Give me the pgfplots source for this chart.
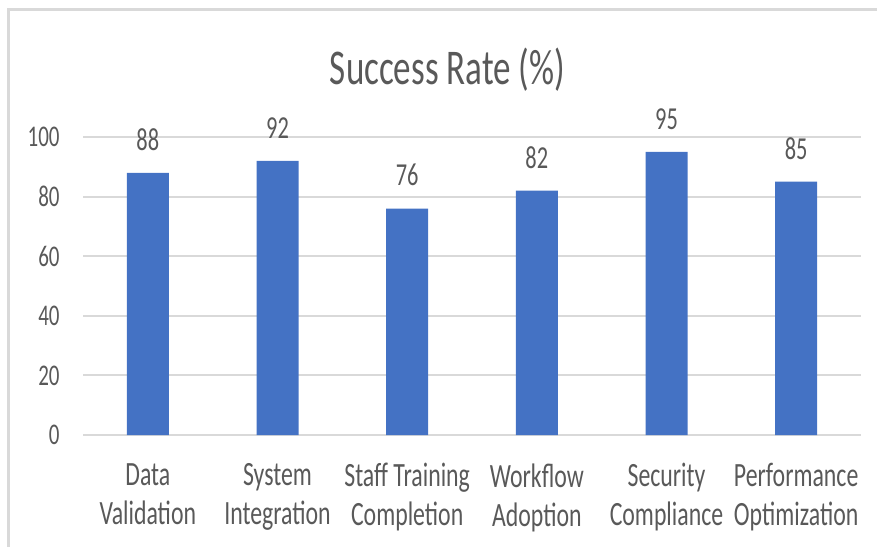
\documentclass[border=0pt]{standalone}
\usepackage{pgfplots}
\pgfplotsset{compat=1.18}
\usepackage{fontspec}
\setmainfont{Carlito}[FakeStretch=0.7]
\definecolor{barblue}{HTML}{4472C4}
\definecolor{gridgray}{HTML}{D9D9D9}
\definecolor{textgray}{HTML}{595959}
\begin{document}
\begin{tikzpicture}
\begin{scope}[x=0.5pt,y=-0.5pt]
\path[use as bounding box] (0,0) rectangle (877,547);
\draw[gridgray, line width=1.5pt] (7,9.5) -- (877,9.5);
\draw[gridgray, line width=1.5pt] (8.5,8) -- (8.5,547);
\node[textgray, font=\fontsize{25}{30}\selectfont, anchor=base, inner sep=0pt] at (447.5,84) {Success Rate (\%)};
\end{scope}
\begin{axis}[
  at={(41.5pt,-217.5pt)}, anchor=south west,
  scale only axis, width=389pt, height=149pt,
  xmin=-0.5, xmax=5.5, ymin=0, ymax=100,
  ytick={0,20,40,60,80,100},
  xtick={0,1,2,3,4,5},
  xticklabels={{Data\\Validation},{System\\Integration},{Staff Training\\Completion},{Workflow\\Adoption},{Security\\Compliance},{Performance\\Optimization}},
  separate axis lines,
  axis x line*=bottom, axis y line*=left,
  y axis line style={draw=none},
  x axis line style={gridgray, line width=1.25pt},
  major tick length=0pt,
  ymajorgrids, grid style={gridgray, line width=1pt},
  /pgf/number format/assume math mode=true,
  yticklabel style={textgray, font=\fontsize{15}{18}\selectfont, anchor=east, inner sep=0pt, xshift=-11.5pt},
  xticklabel style={textgray, font=\fontsize{17}{19.5}\selectfont, align=center, anchor=north, inner sep=0pt, yshift=-14pt},
  ybar, bar width=21pt,
  clip=false,
  nodes near coords,
  every node near coord/.append style={textgray, font=\fontsize{16}{19}\selectfont, anchor=south, inner sep=0pt, yshift=11pt},
]
\addplot[fill=barblue, draw=none] coordinates {(0,88) (1,92) (2,76) (3,82) (4,95) (5,85)};
\end{axis}
\end{tikzpicture}
\end{document}
